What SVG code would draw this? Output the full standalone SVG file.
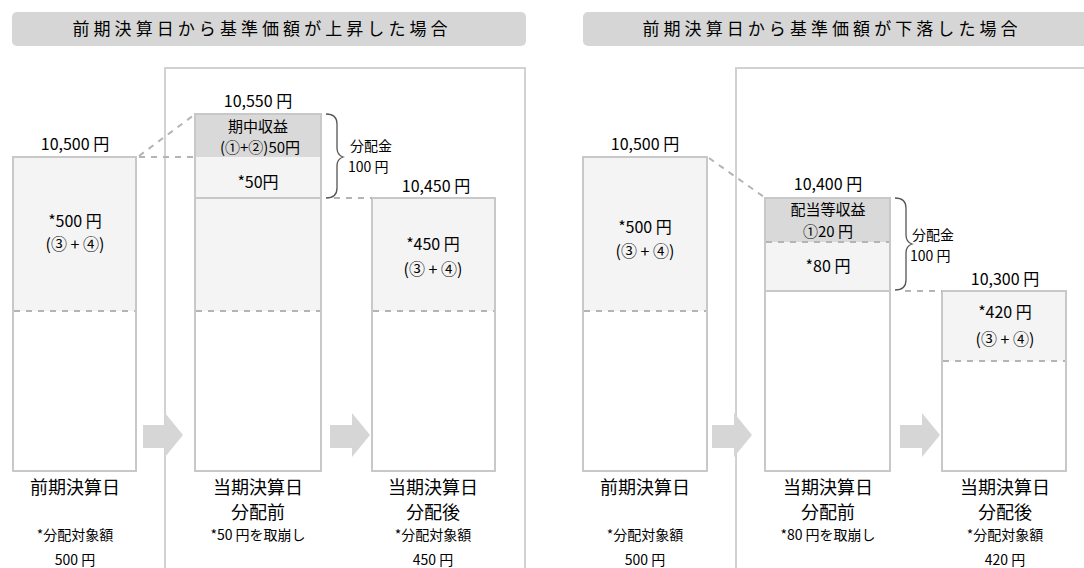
<svg xmlns="http://www.w3.org/2000/svg" width="1084" height="568" viewBox="0 0 1084 568">
<defs>
<style>
text{font-family:"Noto Sans CJK JP","Liberation Sans",sans-serif;fill:#000;text-anchor:middle}
.title{font-size:17px}
.v{font-size:16px}
.t{font-size:15px}
.d{font-size:14px}
.cap{font-size:18px}
.sm{font-size:14px}
.tb{fill:#d6d6d6}
.frame{fill:#fff;stroke:#d2d2d2;stroke-width:2}
.bar{fill:#fff;stroke:#c8c8c8;stroke-width:2}
.lt{fill:#f4f4f4}
.dk{fill:#d9d9d9}
.dash{stroke:#b4b4b4;stroke-width:2;stroke-dasharray:6,6;fill:none}
.solid{stroke:#c8c8c8;stroke-width:2;fill:none}
.brace{stroke:#555;stroke-width:1.3;fill:none}
.arr{fill:#d6d6d6}
</style>
</defs>
<rect width="1084" height="568" fill="#fff"/>

<g id="title-left"><rect class="tb" x="12" y="12" width="514" height="34" rx="5"/><text class="title" x="260" y="35" textLength="375" lengthAdjust="spacing">前期決算日から基準価額が上昇した場合</text></g>
<g id="title-right"><rect class="tb" x="583" y="12" width="510" height="34" rx="5"/><text class="title" x="830" y="35" textLength="375" lengthAdjust="spacing">前期決算日から基準価額が下落した場合</text></g>

<rect id="frame-left" class="frame" x="165" y="68" width="360" height="520"/>
<rect id="frame-right" class="frame" x="736" y="68" width="360" height="520"/>

<g id="bar-prev-up">
<rect class="bar" x="13" y="157" width="123" height="314"/>
<rect class="lt" x="14" y="158" width="121" height="153"/>
<line class="dash" x1="14" y1="311" x2="135" y2="311"/>
<text class="v" x="75" y="150">10,500 円</text>
<text class="v" x="75" y="227">*500 円</text>
<text class="v" x="75" y="250">(③ + ④)</text>
<text class="cap" x="75" y="494">前期決算日</text>
<text class="sm" x="75" y="540">*分配対象額</text>
<text class="sm" x="75" y="565">500 円</text>
</g>

<g id="bar-before-up">
<rect class="bar" x="195" y="114" width="126" height="357"/>
<rect class="dk" x="196" y="115" width="124" height="42"/>
<rect class="lt" x="196" y="157" width="124" height="154"/>
<line class="solid" x1="196" y1="198" x2="320" y2="198"/>
<line class="dash" x1="196" y1="311" x2="320" y2="311"/>
<text class="v" x="258" y="107">10,550 円</text>
<text class="t" x="258" y="132">期中収益</text>
<text class="t" x="260" y="153">(①+②)50円</text>
<text class="v" x="258" y="188">*50円</text>
<text class="cap" x="258" y="494">当期決算日</text>
<text class="cap" x="258" y="519">分配前</text>
<text class="sm" x="258" y="540">*50 円を取崩し</text>
</g>

<g id="bar-after-up">
<rect class="bar" x="372" y="198" width="123" height="273"/>
<rect class="lt" x="373" y="199" width="121" height="112"/>
<line class="dash" x1="373" y1="311" x2="494" y2="311"/>
<text class="v" x="436" y="192">10,450 円</text>
<text class="v" x="433" y="250">*450 円</text>
<text class="v" x="433" y="275">(③ + ④)</text>
<text class="cap" x="433" y="494">当期決算日</text>
<text class="cap" x="433" y="519">分配後</text>
<text class="sm" x="433" y="540">*分配対象額</text>
<text class="sm" x="433" y="565">450 円</text>
</g>

<g id="dist-up">
<text class="d" x="350" y="151" style="text-anchor:start">分配金</text>
<text class="d" x="348" y="172" style="text-anchor:start">100 円</text>
</g>

<g id="bar-prev-down">
<rect class="bar" x="583" y="157" width="124" height="314"/>
<rect class="lt" x="584" y="158" width="122" height="153"/>
<line class="dash" x1="584" y1="311" x2="706" y2="311"/>
<text class="v" x="645" y="150">10,500 円</text>
<text class="v" x="645" y="233">*500 円</text>
<text class="v" x="645" y="257">(③ + ④)</text>
<text class="cap" x="645" y="494">前期決算日</text>
<text class="sm" x="645" y="540">*分配対象額</text>
<text class="sm" x="645" y="565">500 円</text>
</g>

<g id="bar-before-down">
<rect class="bar" x="765" y="198" width="125" height="273"/>
<rect class="dk" x="766" y="199" width="123" height="43"/>
<rect class="lt" x="766" y="242" width="123" height="48"/>
<line class="dash" x1="766" y1="242" x2="889" y2="242"/>
<line class="solid" x1="766" y1="291" x2="889" y2="291"/>
<text class="v" x="828" y="190">10,400 円</text>
<text class="t" x="828" y="215">配当等収益</text>
<text class="t" x="828" y="237">①20 円</text>
<text class="v" x="828" y="272">*80 円</text>
<text class="cap" x="828" y="494">当期決算日</text>
<text class="cap" x="828" y="519">分配前</text>
<text class="sm" x="828" y="540">*80 円を取崩し</text>
</g>

<g id="bar-after-down">
<rect class="bar" x="942" y="291" width="124" height="180"/>
<rect class="lt" x="943" y="292" width="122" height="69"/>
<line class="dash" x1="943" y1="361" x2="1065" y2="361"/>
<text class="v" x="1005" y="285">10,300 円</text>
<text class="v" x="1005" y="318">*420 円</text>
<text class="v" x="1005" y="345">(③ + ④)</text>
<text class="cap" x="1005" y="494">当期決算日</text>
<text class="cap" x="1005" y="519">分配後</text>
<text class="sm" x="1005" y="540">*分配対象額</text>
<text class="sm" x="1005" y="565">420 円</text>
</g>

<g id="dist-down">
<text class="d" x="912" y="240" style="text-anchor:start">分配金</text>
<text class="d" x="910" y="261" style="text-anchor:start">100 円</text>
</g>

<g id="connectors">
<line class="dash" x1="139" y1="157" x2="195" y2="157"/>
<line class="dash" x1="139" y1="156" x2="194" y2="115"/>
<line class="dash" x1="334" y1="198" x2="372" y2="198"/>
<path class="brace" d="M326,114 Q337,114 337,124 L337,148 Q337,155 343,157 Q337,159 337,166 L337,188 Q337,198 326,198"/>
<line class="dash" x1="709" y1="158" x2="764" y2="197"/>
<line class="dash" x1="905" y1="291" x2="942" y2="291"/>
<path class="brace" d="M895,198 Q906,198 906,208 L906,235 Q906,242 912,244 Q906,246 906,253 L906,280 Q906,290 895,290"/>
<polygon class="arr" points="143,425 165,425 165,413 183,435 165,457 165,448 143,448"/>
<polygon class="arr" points="330,425 352,425 352,413 370,435 352,457 352,448 330,448"/>
<polygon class="arr" points="712,425 734,425 734,413 752,435 734,457 734,448 712,448"/>
<polygon class="arr" points="900,425 922,425 922,413 940,435 922,457 922,448 900,448"/>
</g>
</svg>
